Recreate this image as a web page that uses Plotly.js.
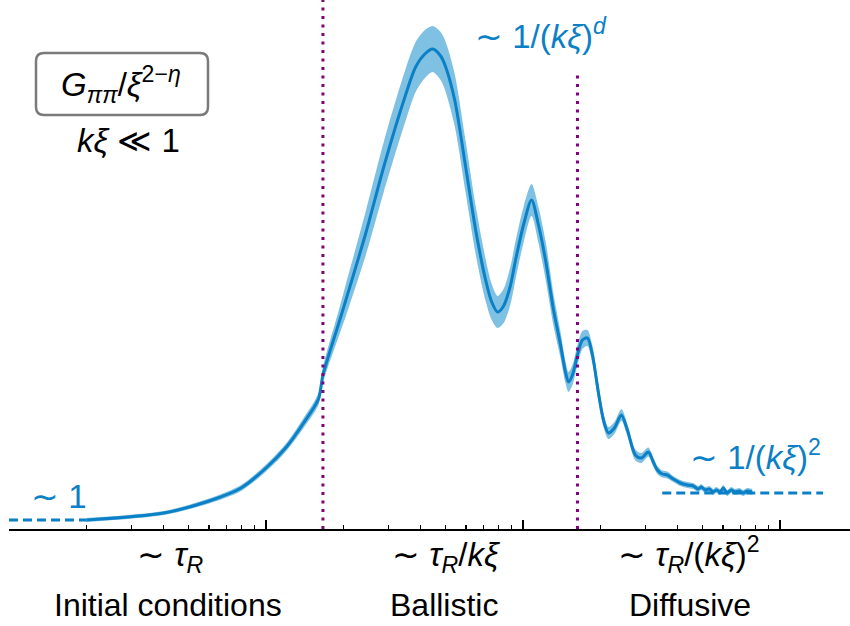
<!DOCTYPE html>
<html><head><meta charset="utf-8">
<script src="https://cdn.plot.ly/plotly-3.0.1.min.js"></script>
<style>html,body{margin:0;padding:0;background:#fff}</style>
</head><body><div id="chart" style="width:850px;height:626px"></div>
<script>
// time (log axis) and correlator values
const t = [2,4,6,8,10,12,14,16,16.65,19.2,20.45,24.45,28.7,34.4,38.2,41.5,44.5,47.8,50.0,54.2,59.8,65.4,71.5,75.5,79.6,84.0,89.4,93.5,100.4,107.9,114.8,122.3,131.4,139.9,146.2,150.2,155.7,162.8,170.2,178.0,186.2,196.5,205.5,214.8,226.6,241.3,254.6,273.5,288.6,307.2,321.2,333.0,348.1,364.0,384.1,409.0,435.5,459.5,480.5,493.5,511.5,530.2,549.5,564.4,584.8,600.7,622.6,645.2,668.7,693.1,718.3,744.5,778.5];
const G = [0.9,1.6,2.8,4.1,6.1,8.2,10.6,13.0,15.4,20.6,22.9,29.6,36.2,42.9,46.2,47.5,48.0,47.3,46.2,42.9,36.2,29.9,24.9,22.7,21.7,22.3,24.4,26.9,30.4,32.9,30.4,26.9,21.9,18.4,15.7,14.7,15.4,17.4,18.9,19.1,17.4,13.6,10.9,9.6,10.1,11.4,9.9,7.4,7.1,7.7,6.7,5.9,5.5,5.4,5.0,4.6,4.4,4.3,4.0,4.2,3.9,4.0,3.7,3.9,3.7,4.1,3.6,3.9,3.7,3.8,3.6,3.8,3.7];
const Gerr = [0.2,0.2,0.25,0.3,0.35,0.4,0.5,0.6,0.8,1.3,1.6,2.2,2.5,2.6,2.5,2.4,2.3,2.4,2.5,2.6,2.6,2.4,2.1,1.8,1.6,1.7,1.9,1.9,1.8,1.6,1.8,1.9,1.6,1.3,1.1,1.0,1.0,1.0,0.9,0.8,0.9,0.9,0.7,0.6,0.6,0.6,0.6,0.55,0.5,0.45,0.45,0.4,0.35,0.35,0.3,0.3,0.3,0.3,0.3,0.3,0.3,0.3,0.3,0.3,0.3,0.3,0.3,0.3,0.3,0.3,0.3,0.3,0.3];
// asymptotes
const earlyT = [1, 2];
const earlyLevel = [0.9, 0.9];
const lateT = [348, 1469];
const lateLevel = [3.6, 3.6];
// regime boundaries
const boundT = [16.65, 162.8];
const boundTop = [52.9, 45.4];

const blue = '#0b80c6';
const upper = G.map((v,i)=>v+Gerr[i]);
const lower = G.map((v,i)=>v-Gerr[i]);

const traces = [
  {x:t, y:upper, mode:'lines', line:{width:0, shape:'spline', smoothing:0.8}, hoverinfo:'skip', showlegend:false},
  {x:t, y:lower, mode:'lines', line:{width:0, shape:'spline', smoothing:0.8}, fill:'tonexty', fillcolor:'rgba(0,131,199,0.5)', hoverinfo:'skip', showlegend:false},
  {x:t, y:G, mode:'lines', line:{color:blue, width:3, shape:'spline', smoothing:0.8}, showlegend:false},
  {x:earlyT, y:earlyLevel, mode:'lines', line:{color:blue, width:3, dash:'9px,5px'}, showlegend:false},
  {x:lateT, y:lateLevel, mode:'lines', line:{color:blue, width:3, dash:'9px,5px'}, showlegend:false},
  {x:[boundT[0],boundT[0]], y:[0,boundTop[0]], mode:'lines', line:{color:'#800080', width:3, dash:'3px,5.5px'}, showlegend:false},
  {x:[boundT[1],boundT[1]], y:[0,boundTop[1]], mode:'lines', line:{color:'#800080', width:3, dash:'3px,5.5px'}, showlegend:false}
];

const F = 'Arial';
function ann(text, x, y, xanchor, color, size){
  return {text:text, xref:'paper', yref:'paper', x:x, y:y, xanchor:xanchor||'center', yanchor:'middle', showarrow:false, font:{family:F, size:size||32, color:color||'#000'}};
}
const x0=0.0321, x1=0.2366, y0=0.7826, y1=0.8998, rx=0.0095, ry=0.0151;
const boxPath = `M ${x0+rx} ${y1} L ${x1-rx} ${y1} Q ${x1} ${y1} ${x1} ${y1-ry} L ${x1} ${y0+ry} Q ${x1} ${y0} ${x1-rx} ${y0} L ${x0+rx} ${y0} Q ${x0} ${y0} ${x0} ${y0+ry} L ${x0} ${y1-ry} Q ${x0} ${y1} ${x0+rx} ${y1} Z`;

const layout = {
  width:850, height:626,
  margin:{l:9, r:0, t:0, b:97, pad:0},
  paper_bgcolor:'#fff', plot_bgcolor:'#fff',
  showlegend:false,
  xaxis:{type:'log', range:[0, 3.272], showline:true, linecolor:'#000', linewidth:1.5, mirror:false,
    ticks:'inside', ticklen:9, tickwidth:1.5, tickcolor:'#000', dtick:1, showticklabels:false,
    showgrid:false, zeroline:false,
    minor:{ticks:'inside', ticklen:4.5, tickwidth:1.2, tickcolor:'#000', dtick:'D1', showgrid:false}},
  yaxis:{range:[0, 52.9], visible:false, showgrid:false, zeroline:false},
  shapes:[{type:'path', xref:'paper', yref:'paper', path:boxPath, line:{color:'#7a7a7a', width:2.5}, fillcolor:'rgba(255,255,255,0)'}],
  annotations:[
    ann('∼ <i>τ</i><sub><i>R</i></sub>', 0.1914, -0.0521, 'center', '#000', 33),
    ann('∼ <i>τ</i><sub><i>R</i></sub>/<i>kξ</i>', 0.5196, -0.0521, 'center', '#000', 33),
    ann('∼ <i>τ</i><sub><i>R</i></sub>/(<i>kξ</i>)<sup>2</sup>', 0.8074, -0.0484, 'center', '#000', 33),
    ann('Initial conditions', 0.189, -0.1437),
    ann('Ballistic', 0.5172, -0.1437),
    ann('Diffusive', 0.8098, -0.1437),
    ann('∼ 1/(<i>kξ</i>)<sup><i>d</i></sup>', 0.552, 0.935, 'left', blue, 33),
    ann('∼ 1/(<i>kξ</i>)<sup>2</sup>', 0.8075, 0.1399, 'left', blue, 33),
    ann('∼ 1', 0.0238, 0.0605, 'left', blue, 33),
    ann('<i>G</i><sub><i>ππ</i></sub>/<i>ξ</i><sup>2−<i>η</i></sup>', 0.1332, 0.8412, 'center', '#000', 33),
    ann('<i>kξ</i> ≪ 1', 0.1415, 0.7353, 'center', '#000', 33)
  ]
};
Plotly.newPlot('chart', traces, layout, {staticPlot:true, displayModeBar:false});
</script></body></html>
